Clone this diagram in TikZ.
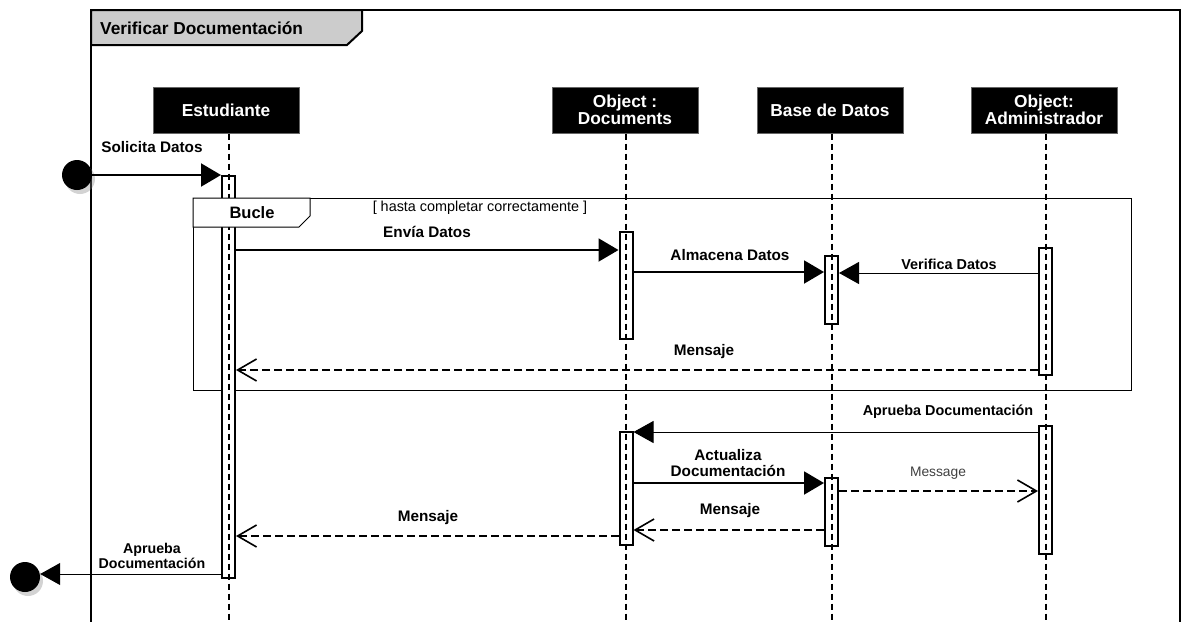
\documentclass[tikz,border=0pt]{standalone}
\usepackage{fontspec}
\setmainfont{Liberation Sans}
\usetikzlibrary{arrows.meta,shadows}
\newcommand{\lblfont}{\fontsize{15.3}{16.5}\selectfont\bfseries}
\newcommand{\smlfont}{\fontsize{14.4}{15}\selectfont\bfseries}
\newcommand{\hdfont}{\fontsize{17.3}{17}\selectfont\bfseries}
\tikzset{
  head/.style={fill=black, draw=black!60, line width=1pt, text=white, minimum width=146pt, minimum height=46pt, inner sep=0pt, align=center, font=\hdfont},
  lifeline/.style={line width=2pt, dash pattern=on 6pt off 4pt},
  actbar/.style={draw, line width=2pt, fill=white, minimum width=13pt, inner sep=0pt, anchor=north},
  barfill/.style={fill=white, minimum width=13pt, inner sep=0pt, anchor=north},
  syncmsg/.style={line width=2pt, -{Triangle[length=20pt,width=23pt]}},
  thinmsg/.style={line width=1pt, -{Triangle[length=20pt,width=22pt]}},
  retmsg/.style={line width=2pt, dash pattern=on 8pt off 4pt, -{Straight Barb[length=19pt,width=22pt,line width=1.6pt]}},
  lbl/.style={font=\lblfont, inner sep=0pt},
  sml/.style={font=\smlfont, inner sep=0pt, align=center},
  endpt/.style={circle, fill=black, minimum size=30pt, inner sep=0pt, drop shadow={opacity=0.35, shadow xshift=3pt, shadow yshift=-4pt}}
}
\begin{document}
\begin{tikzpicture}[x=1pt,y=-1pt]
\useasboundingbox (0,0) rectangle (1183,621);
% outer frame
\draw[line width=2pt] (91,625) -- (91,10) -- (1180,10) -- (1180,625);
\draw[line width=2pt, fill=black!20] (91,10) -- (362,10) -- (362,31) -- (347,45) -- (91,45) -- cycle;
\node[anchor=west, font=\fontsize{17.3}{18}\selectfont\bfseries, inner sep=0pt] (title) at (100,28) {Verificar Documentación};
% loop fragment frame
\draw[line width=1pt] (193,198) rectangle (1131,390);
% heads
\node[head] (est) at (226,110) {Estudiante};
\node[head] (doc) at (625,110) {Object :\\Documents};
\node[head] (bd) at (830,110) {Base de Datos};
\node[head] (adm) at (1044,110) {Object:\\Administrador};
% bar backgrounds
\node[barfill, minimum height=402pt] (estF) at (228.5,175) {};
\node[barfill, minimum height=107pt] (docAF) at (626,231) {};
\node[barfill, minimum height=68pt] (bdAF) at (831.5,255) {};
\node[barfill, minimum height=127pt] (adAF) at (1045.5,247) {};
\node[barfill, minimum height=113pt] (docBF) at (626,431) {};
\node[barfill, minimum height=68pt] (bdBF) at (831.5,477) {};
\node[barfill, minimum height=128pt] (adBF) at (1045.5,425) {};
% lifelines
\draw[lifeline] (est.south -| 228.5,0) -- (228.5,625);
\draw[lifeline] (doc.south -| 626,0) -- (626,625);
\draw[lifeline] (bd.south -| 831.5,0) -- (831.5,625);
\draw[lifeline] (adm.south -| 1045.5,0) -- (1045.5,625);
% activation bars
\node[actbar, fill=none, minimum height=402pt] (estA) at (228.5,175) {};
\node[actbar, fill=none, minimum height=107pt] (docA) at (626,231) {};
\node[actbar, fill=none, minimum height=68pt] (bdA) at (831.5,255) {};
\node[actbar, fill=none, minimum height=127pt] (adA) at (1045.5,247) {};
\node[actbar, fill=none, minimum height=113pt] (docB) at (626,431) {};
\node[actbar, fill=none, minimum height=68pt] (bdB) at (831.5,477) {};
\node[actbar, fill=none, minimum height=128pt] (adB) at (1045.5,425) {};
% loop tab (on top of the bar)
\draw[line width=1pt, fill=white] (193,198) -- (310,198) -- (310,216) -- (299,227) -- (193,227) -- cycle;
\node[font=\fontsize{16.5}{17}\selectfont\bfseries, inner sep=0pt] (bucle) at (252,213) {Bucle};
\node[font=\fontsize{14.4}{15}\selectfont, inner sep=0pt] (guard) at (480,208) {[ hasta completar correctamente ]};
% start / end points
\node[endpt] (start) at (77,175) {};
\node[endpt] (finish) at (25,577) {};
% messages
\draw[syncmsg] (start.east |- 0,175) -- (estA.west |- 0,175);
\node[lbl] (l1) at (152,147) {Solicita Datos};
\draw[syncmsg] (estA.east |- 0,250) -- (docA.west |- 0,250);
\node[lbl] (l2) at (427,232) {Envía Datos};
\draw[syncmsg] (docA.east |- 0,272) -- (bdA.west |- 0,272);
\node[lbl] (l3) at (730,255) {Almacena Datos};
\draw[thinmsg] (adA.west |- 0,273) -- (bdA.east |- 0,273);
\node[sml] (l4) at (949,264) {Verifica Datos};
\draw[retmsg] (adA.west |- 0,370) -- (estA.east |- 0,370);
\node[lbl] (l5) at (704,352) {Mensaje};
\draw[thinmsg] (adB.west |- 0,432) -- (docB.east |- 0,432);
\node[sml] (l6) at (948,412) {Aprueba Documentación};
\draw[syncmsg] (docB.east |- 0,483) -- (bdB.west |- 0,483);
\node[lbl, align=center] (l7) at (728,463) {Actualiza\\Documentación};
\draw[retmsg] (bdB.east |- 0,491) -- (adB.west |- 0,491);
\node[font=\fontsize{13.8}{14}\selectfont, text=black!75, inner sep=0pt] (l8) at (938,473) {Message};
\draw[retmsg] (bdB.west |- 0,530) -- (docB.east |- 0,530);
\node[lbl] (l9) at (730,511) {Mensaje};
\draw[retmsg] (docB.west |- 0,536) -- (estA.east |- 0,536);
\node[lbl] (l10) at (428,518) {Mensaje};
\draw[thinmsg] (estA.west |- 0,574) -- (finish.east |- 0,574);
\node[sml, font=\fontsize{14.2}{14.5}\selectfont\bfseries] (l11) at (152,556) {Aprueba\\Documentación};
\end{tikzpicture}
\end{document}
